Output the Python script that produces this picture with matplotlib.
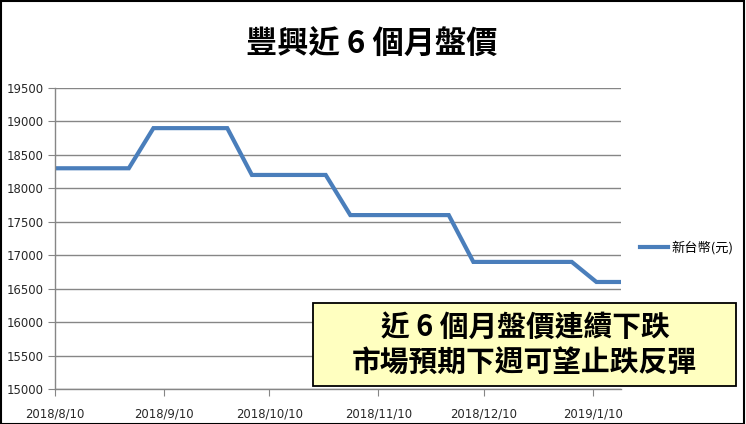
import pandas as pd
import matplotlib
matplotlib.use("Agg")
import matplotlib.pyplot as plt
from matplotlib.patches import Rectangle

plt.rcParams['font.family'] = ['Noto Sans CJK TC', 'DejaVu Sans']

# Weekly price data (NT$ per ton)
start_date = "2018-08-10"
prices = [18300, 18300, 18300, 18300,
          18900, 18900, 18900, 18900,
          18200, 18200, 18200, 18200,
          17600, 17600, 17600, 17600, 17600,
          16900, 16900, 16900, 16900, 16900,
          16600, 16600]
dates = pd.date_range(start_date, periods=len(prices), freq="7D")

tick_dates = pd.to_datetime(["2018-08-10", "2018-09-10", "2018-10-10",
                             "2018-11-10", "2018-12-10", "2019-01-10"])
tick_labels = ["2018/8/10", "2018/9/10", "2018/10/10",
               "2018/11/10", "2018/12/10", "2019/1/10"]
y_ticks = list(range(15000, 19501, 500))

title = "豐興近 6 個月盤價"
series_name = "新台幣(元)"
note_lines = ["近 6 個月盤價連續下跌", "市場預期下週可望止跌反彈"]

W, H = 746, 424
fig = plt.figure(figsize=(W / 100, H / 100), dpi=100)
ax = fig.add_axes([55 / W, (H - 389) / H, (621 - 55) / W, (389 - 88) / H])

line_color = "#4A7EBB"
grid_color = "#868686"
text_color = "#262626"

ax.plot(dates, prices, color=line_color, linewidth=3, label=series_name,
        solid_joinstyle="miter")

ax.set_xlim(dates[0], dates[-1])
ax.set_ylim(15000, 19500)
ax.set_yticks(y_ticks)
ax.set_yticklabels([str(v) for v in y_ticks], family="DejaVu Sans",
                   fontsize=8.4, color=text_color)
ax.set_xticks(tick_dates)
ax.set_xticklabels(tick_labels, family="DejaVu Sans", fontsize=8.4,
                   color=text_color)
ax.tick_params(axis="x", length=5, color=grid_color, pad=8)
ax.tick_params(axis="y", length=5, color=grid_color, pad=3)

ax.grid(axis="y", color=grid_color, linewidth=1)
ax.set_axisbelow(True)
for side in ["top", "right"]:
    ax.spines[side].set_visible(False)
for side in ["left", "bottom"]:
    ax.spines[side].set_color(grid_color)
    ax.spines[side].set_linewidth(1)

fig.text(372 / W, 1 - 45 / H, title, ha="center", va="center",
         fontsize=22.5, fontweight="bold", color="black")

leg = ax.legend(loc="center left", bbox_to_anchor=(640 / W, 1 - 248 / H),
                bbox_transform=fig.transFigure, frameon=False,
                handlelength=2.1, handletextpad=0.3, borderaxespad=0,
                borderpad=0, prop={"size": 9.5})

# yellow note box
box = Rectangle((313 / W, 1 - 386 / H), (736 - 313) / W, (386 - 303) / H,
                transform=fig.transFigure, facecolor="#FFFFC0",
                edgecolor="black", linewidth=1.3, zorder=5)
fig.patches.append(box)
fig.text(525 / W, 1 - 327 / H, note_lines[0], ha="center", va="center",
         fontsize=20.7, fontweight="bold", color="black", zorder=6)
fig.text(524 / W, 1 - 362 / H, note_lines[1], ha="center", va="center",
         fontsize=20.7, fontweight="bold", color="black", zorder=6)

# outer frame
frame = Rectangle((0.5 / W, 0.5 / H), (W - 2.5) / W, (H - 1.5) / H,
                  transform=fig.transFigure, fill=False,
                  edgecolor="black", linewidth=1.5, zorder=10)
fig.patches.append(frame)

fig.savefig("out.png", dpi=100)
